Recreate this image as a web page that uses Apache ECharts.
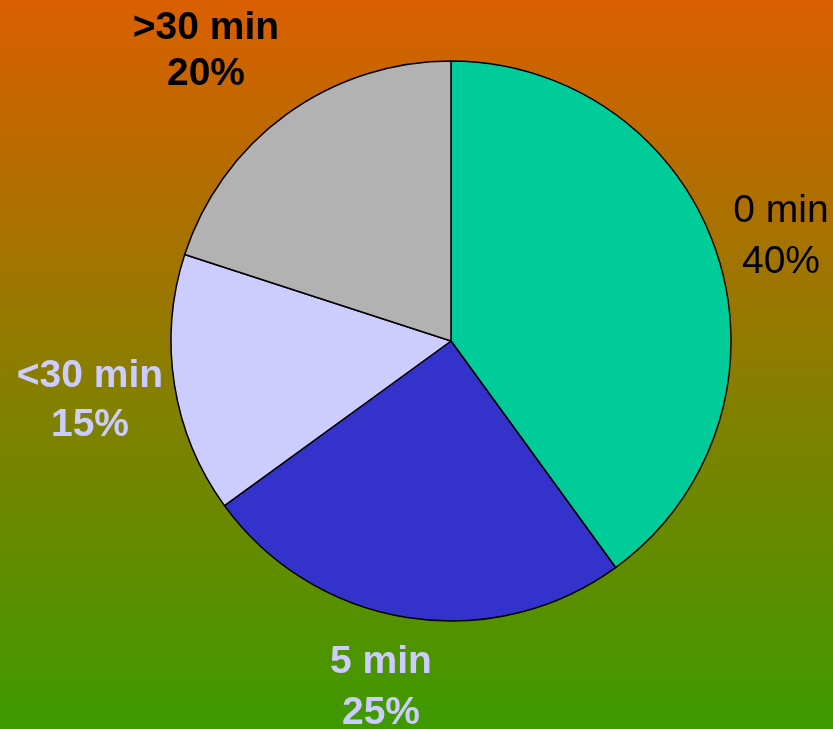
<!DOCTYPE html>
<html>
<head>
<meta charset="utf-8">
<script src="https://cdn.jsdelivr.net/npm/echarts@6/dist/echarts.min.js"></script>
<style>
html,body{margin:0;padding:0;}
#chart{width:833px;height:729px;}
</style>
</head>
<body>
<div id="chart"></div>
<script>
const categories = ['0 min', '5 min', '<30 min', '>30 min'];
const values = [40, 25, 15, 20];
const sliceColors = ['#00CC99', '#3333CC', '#CCCCFF', '#B2B2B2'];
const labelColors = ['#000000', '#CCCCFF', '#CCCCFF', '#000000'];
const labelWeights = ['normal', 'bold', 'bold', 'bold'];
const labelPos = [[781, 237], [381, 688], [90, 401], [206, 51]];
const labelLineHeights = [51, 51, 49, 46];

const chart = echarts.init(document.getElementById('chart'));
chart.setOption({
  animation: false,
  backgroundColor: new echarts.graphic.LinearGradient(0, 0, 0, 1, [
    {offset: 0, color: '#DA5F00'},
    {offset: 1, color: '#3D9A00'}
  ]),
  series: [{
    type: 'pie',
    center: [451, 341],
    radius: [0, 280],
    startAngle: 90,
    clockwise: true,
    avoidLabelOverlap: false,
    emphasis: {disabled: true},
    itemStyle: {borderColor: '#000', borderWidth: 1.5},
    labelLine: {show: false},
    label: {
      show: true,
      position: 'outside',
      fontFamily: 'Liberation Sans, Arial, sans-serif',
      fontSize: 39,
      align: 'center',
      formatter: p => p.name + '\n' + p.value + '%'
    },
    labelLayout: p => ({
      x: labelPos[p.dataIndex][0],
      y: labelPos[p.dataIndex][1],
      align: 'center',
      verticalAlign: 'middle'
    }),
    data: categories.map((c, i) => ({
      name: c,
      value: values[i],
      itemStyle: {color: sliceColors[i]},
      label: {color: labelColors[i], fontWeight: labelWeights[i], lineHeight: labelLineHeights[i]}
    }))
  }]
});
</script>
</body>
</html>
